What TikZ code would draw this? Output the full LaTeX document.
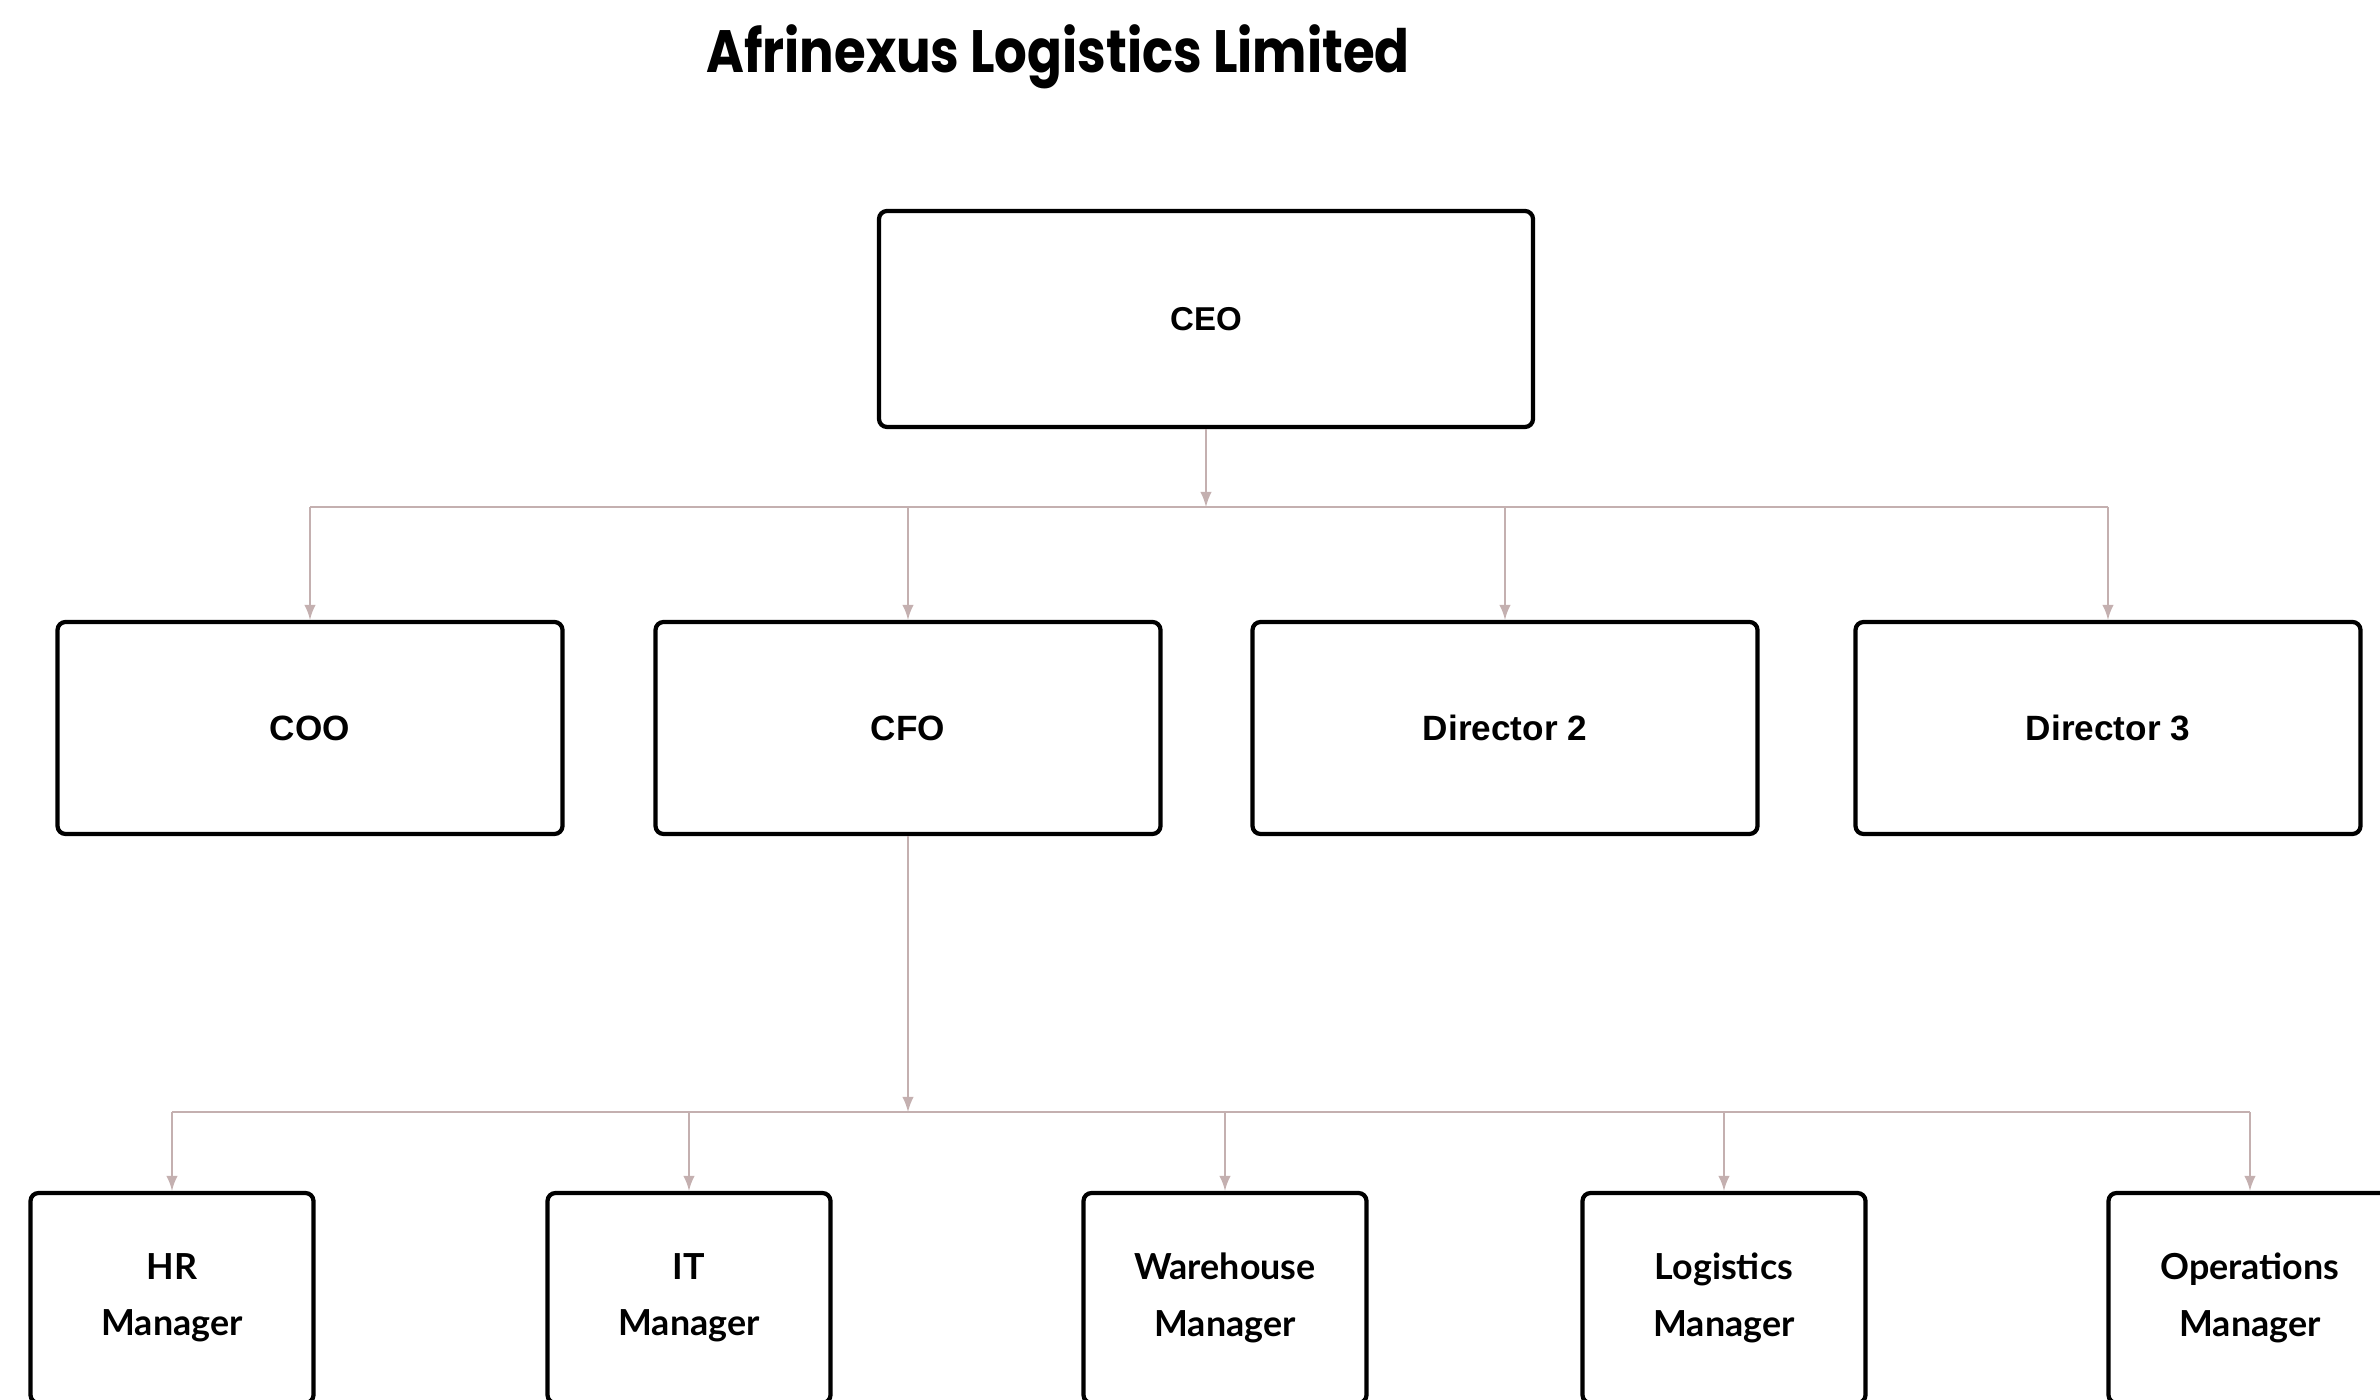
\documentclass[tikz,border=0pt]{standalone}
\usepackage{fontspec}
\setmainfont{Liberation Sans}
\newfontfamily\titlefont{Poppins}
\newfontfamily\mgrfont{Lato}
\definecolor{linkgray}{RGB}{196,176,176}

\begin{document}
\begin{tikzpicture}[>=latex,
  topbox/.style={draw,line width=1.2pt,rounded corners=0.08cm,
    minimum width=5.05cm,minimum height=2.12cm,
    font=\fontsize{10}{12}\selectfont\bfseries},
  mgrbox/.style={draw,line width=1.2pt,rounded corners=0.08cm,
    minimum width=2.83cm,minimum height=2.10cm,align=center,
    font=\mgrfont\bfseries\fontsize{10.2}{16}\selectfont},
  link/.style={linkgray,line width=0.5pt}]
  \useasboundingbox (0,0) rectangle (23.80,13.99);
  \node[anchor=base,xscale=0.86,font=\titlefont\bfseries\fontsize{17}{20}\selectfont] (title) at (10.58,13.26) {Afrinexus Logistics Limited};
  % top level
  \node[topbox,minimum width=6.54cm,minimum height=2.16cm,font=\fontsize{9.4}{12}\selectfont\bfseries] (ceo) at (12.06,10.80) {CEO};
  \node[topbox] (coo) at (3.10,6.71) {COO};
  \node[topbox] (cfo) at (9.08,6.71) {CFO};
  \node[topbox] (dirtwo) at (15.05,6.71) {Director 2};
  \node[topbox] (dirthree) at (21.08,6.71) {Director 3};
  % managers
  \node[mgrbox] (hr) at (1.72,1.01) {HR\\Manager};
  \node[mgrbox] (it) at (6.89,1.01) {IT\\Manager};
  \node[mgrbox] (wh) at (12.25,1.01) {Warehouse\\Manager};
  \node[mgrbox] (logi) at (17.24,1.01) {Logistics\\Manager};
  \node[mgrbox] (ops) at (22.50,1.01) {Operations\\Manager};
  % connectors
  \coordinate (topbus) at (12.06,8.92);
  \coordinate (lowbus) at (9.08,2.87);
  \draw[link,->] (ceo) -- (topbus);
  \draw[link] (coo |- topbus) -- (dirthree |- topbus);
  \foreach \n in {coo,cfo,dirtwo,dirthree}
    \draw[link,->] (\n |- topbus) -- (\n);
  \draw[link,->] (cfo) -- (lowbus);
  \draw[link] (hr |- lowbus) -- (ops |- lowbus);
  \foreach \n in {hr,it,wh,logi,ops}
    \draw[link,->] (\n |- lowbus) -- (\n);
\end{tikzpicture}
\end{document}
